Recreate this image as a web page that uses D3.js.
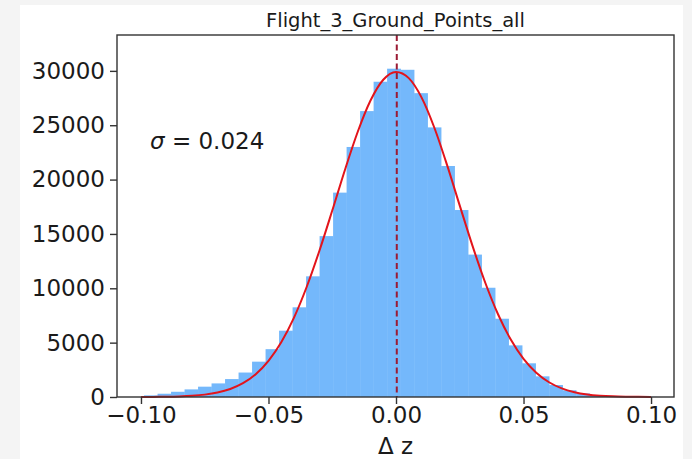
<!DOCTYPE html>
<html>
<head>
<meta charset="utf-8">
<script src="https://cdn.jsdelivr.net/npm/d3@7"></script>
<style>
  html, body { margin: 0; padding: 0; background: #f4f4f4; }
  svg { display: block; font-family: "DejaVu Sans", sans-serif; }
</style>
</head>
<body>
<div id="chart"></div>
<script>
// histogram of dz, 38 equal bins
var histStart = -0.0988,
    binWidth = 0.005295;
var counts = [150, 300, 480, 700, 950, 1250, 1650, 2250, 3250, 4400,
    6100, 8250, 11100, 14800, 18800, 23000, 26300, 29000, 30200, 30100,
    27950, 24800, 21250, 17200, 13100, 10050, 7200, 4750, 3100, 1900,
    1100, 620, 330, 170, 90, 45, 25, 12];

// fitted normal curve
var curveX = [-0.100, -0.095, -0.090, -0.085, -0.080, -0.075, -0.070, -0.065, -0.060, -0.055,
    -0.050, -0.045, -0.040, -0.035, -0.030, -0.025, -0.020, -0.015, -0.010, -0.005,
    0.000, 0.005, 0.010, 0.015, 0.020, 0.025, 0.030, 0.035, 0.040, 0.045,
    0.050, 0.055, 0.060, 0.065, 0.070, 0.075, 0.080, 0.085, 0.090, 0.095, 0.100];
var curveY = [5, 11, 25, 54, 111, 218, 410, 740, 1270, 2100,
    3330, 5030, 7300, 10140, 13480, 17150, 20910, 24400, 27270, 29180,
    29900, 29330, 27560, 24790, 21350, 17600, 13900, 10510, 7610, 5280,
    3500, 2230, 1355, 790, 440, 235, 120, 58, 27, 12, 5];

var meanDz = 0.0003;
var sigmaLabel = "0.024";
var xTicks = [-0.10, -0.05, 0.00, 0.05, 0.10];
var yTicks = [0, 5000, 10000, 15000, 20000, 25000, 30000];
var title = "Flight_3_Ground_Points_all";

var width = 692, height = 459;
var margins = {top: 35, left: 117, right: 18, bottom: 62};

var svg = d3.select("#chart").append("svg")
    .attr("width", width)
    .attr("height", height);

// white figure area
svg.append("rect")
    .attr("x", 20).attr("y", 5)
    .attr("width", 663).attr("height", height - 5)
    .attr("fill", "#ffffff");

var x = d3.scaleLinear()
    .domain([-0.1094, 0.1090])
    .range([margins.left, width - margins.right]);
var y = d3.scaleLinear()
    .domain([0, 33300])
    .range([height - margins.bottom, margins.top]);

var bins = counts.map(function (c, i) {
    return {x0: histStart + i * binWidth, x1: histStart + (i + 1) * binWidth, n: c};
});

var bodyG = svg.append("g").attr("class", "body");

bodyG.selectAll("rect.bar")
    .data(bins)
    .enter()
    .append("rect")
    .attr("class", "bar")
    .attr("x", function (d) { return x(d.x0); })
    .attr("y", function (d) { return y(d.n); })
    .attr("width", function (d) { return x(d.x1) - x(d.x0) + 0.3; })
    .attr("height", function (d) { return y(0) - y(d.n); })
    .attr("fill", "#74b8fb");

var line = d3.line()
    .x(function (d) { return x(d[0]); })
    .y(function (d) { return y(d[1]); })
    .curve(d3.curveMonotoneX);

bodyG.append("path")
    .datum(d3.zip(curveX, curveY))
    .attr("d", line)
    .attr("fill", "none")
    .attr("stroke", "#e3141b")
    .attr("stroke-width", 2);

bodyG.append("line")
    .attr("x1", x(meanDz)).attr("x2", x(meanDz))
    .attr("y1", y.range()[1]).attr("y2", y.range()[0])
    .attr("stroke", "#9b1b34")
    .attr("stroke-width", 2)
    .attr("stroke-dasharray", "6,3.5");

// axes
var xAxis = d3.axisBottom(x)
    .tickValues(xTicks)
    .tickFormat(d3.format(".2f"))
    .tickSizeInner(7)
    .tickSizeOuter(0)
    .tickPadding(3);
var yAxis = d3.axisLeft(y)
    .tickValues(yTicks)
    .tickFormat(d3.format("d"))
    .tickSizeInner(7)
    .tickSizeOuter(0)
    .tickPadding(5);

var axesG = svg.append("g").attr("class", "axes");
var gx = axesG.append("g")
    .attr("transform", "translate(0," + y.range()[0] + ")")
    .call(xAxis);
var gy = axesG.append("g")
    .attr("transform", "translate(" + x.range()[0] + ",0)")
    .call(yAxis);

[gx, gy].forEach(function (g) {
    g.select(".domain").remove();
    g.selectAll(".tick line").attr("stroke", "#333").attr("stroke-width", 1.4);
    g.selectAll(".tick text")
        .attr("fill", "#1a1a1a")
        .style("font-size", "23px")
        .style("font-family", "DejaVu Sans, sans-serif");
});

axesG.append("rect")
    .attr("x", x.range()[0]).attr("y", y.range()[1])
    .attr("width", x.range()[1] - x.range()[0])
    .attr("height", y.range()[0] - y.range()[1])
    .attr("fill", "none")
    .attr("stroke", "#333")
    .attr("stroke-width", 1.4);

// labels
svg.append("text")
    .attr("x", (x.range()[0] + x.range()[1]) / 2)
    .attr("y", 27)
    .attr("text-anchor", "middle")
    .attr("fill", "#1a1a1a")
    .style("font-size", "19.5px")
    .text(title);

svg.append("text")
    .attr("x", (x.range()[0] + x.range()[1]) / 2)
    .attr("y", 454)
    .attr("text-anchor", "middle")
    .attr("fill", "#1a1a1a")
    .style("font-size", "23px")
    .text("Δ z");

var sig = svg.append("text")
    .attr("x", 150)
    .attr("y", 149)
    .attr("fill", "#1a1a1a")
    .style("font-size", "23px");
sig.append("tspan").style("font-style", "italic").text("σ");
sig.append("tspan").text(" = " + sigmaLabel);
</script>
</body>
</html>
